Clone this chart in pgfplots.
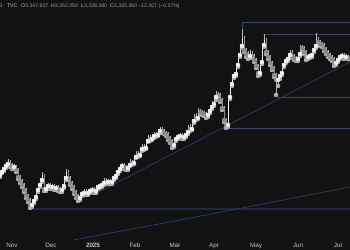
\documentclass[border=0pt]{standalone}
\usepackage{pgfplots}
\pgfplotsset{compat=1.18}
\usepackage{pgfplotstable}
\usepackage{fontspec}
\setmainfont{Liberation Sans}
\definecolor{bg}{HTML}{121212}
\definecolor{upc}{HTML}{F0F0F0}
\definecolor{dnc}{HTML}{8C8C8C}
\definecolor{wick}{HTML}{B5B5B5}
\definecolor{tl}{HTML}{2C3C70}
\definecolor{hl}{HTML}{36446E}
\definecolor{hl2}{HTML}{1E2846}
\definecolor{lab}{HTML}{C9C9C9}
\definecolor{val}{HTML}{9A9A9A}

\pgfplotstableread{
x o h l c
0 2691.5 2719 2680.5 2708
1 2708 2735.5 2702.5 2724.5
2 2724.5 2752 2713.5 2741
3 2741 2763 2730 2752
4 2752 2779.5 2746.5 2763
5 2763 2774 2735.5 2746.5
6 2746.5 2757.5 2724.5 2735.5
7 2735.5 2752 2724.5 2741
8 2741 2746.5 2708 2719
9 2719 2730 2669.5 2680.5
10 2680.5 2691.5 2647.5 2658.5
11 2658.5 2669.5 2625.5 2636.5
12 2636.5 2647.5 2598 2609
13 2609 2620 2565 2576
14 2576 2587 2543 2554
15 2554 2565 2510 2526.5
16 2526.5 2559.5 2515.5 2548.5
17 2548.5 2581.5 2537.5 2570.5
18 2570.5 2620 2559.5 2609
19 2609 2647.5 2598 2636.5
20 2636.5 2675 2625.5 2664
21 2664 2708 2653 2691.5
22 2691.5 2697 2603.5 2614.5
23 2614.5 2642 2603.5 2631
24 2631 2647.5 2620 2636.5
25 2636.5 2647.5 2614.5 2625.5
26 2625.5 2642 2614.5 2631
27 2631 2642 2609 2620
28 2620 2636.5 2609 2625.5
29 2625.5 2636.5 2603.5 2614.5
30 2614.5 2625.5 2598 2609
31 2609 2642 2598 2631
32 2631 2686 2620 2675
33 2675 2724.5 2664 2708
34 2708 2719 2664 2675
35 2675 2686 2636.5 2647.5
36 2647.5 2658.5 2614.5 2625.5
37 2625.5 2636.5 2587 2598
38 2598 2609 2565 2576
39 2576 2587 2548.5 2565
40 2565 2598 2554 2587
41 2587 2603.5 2576 2592.5
42 2592.5 2614.5 2581.5 2603.5
43 2603.5 2614.5 2581.5 2592.5
44 2592.5 2614.5 2581.5 2603.5
45 2603.5 2620 2592.5 2609
46 2609 2625.5 2598 2614.5
47 2614.5 2625.5 2592.5 2603.5
48 2603.5 2636.5 2592.5 2625.5
49 2625.5 2642 2614.5 2631
50 2631 2647.5 2620 2636.5
51 2636.5 2658.5 2625.5 2647.5
52 2647.5 2675 2636.5 2664
53 2664 2675 2642 2653
54 2653 2669.5 2642 2658.5
55 2658.5 2669.5 2642 2653
56 2653 2686 2642 2675
57 2675 2697 2664 2686
58 2686 2719 2675 2708
59 2708 2735.5 2697 2724.5
60 2724.5 2752 2713.5 2741
61 2741 2757.5 2730 2746.5
62 2746.5 2757.5 2724.5 2735.5
63 2735.5 2746.5 2719 2730
64 2730 2757.5 2719 2746.5
65 2746.5 2779.5 2741 2768.5
66 2768.5 2774 2746.5 2757.5
67 2757.5 2801.5 2752 2790.5
68 2790.5 2823.5 2785 2812.5
69 2812.5 2823.5 2790.5 2801.5
70 2801.5 2845.5 2796 2834.5
71 2834.5 2862 2823.5 2851
72 2851 2862 2829 2840
73 2840 2889.5 2834.5 2878.5
74 2878.5 2911.5 2873 2900.5
75 2900.5 2911.5 2878.5 2889.5
76 2889.5 2917 2884 2906
77 2906 2928 2895 2917
78 2917 2928 2900.5 2911.5
79 2911.5 2944.5 2906 2933.5
80 2933.5 2955.5 2922.5 2944.5
81 2944.5 2955.5 2922.5 2933.5
82 2933.5 2944.5 2917 2922.5
83 2922.5 2933.5 2906 2917
84 2917 2928 2884 2895
85 2895 2906 2867.5 2878.5
86 2878.5 2889.5 2840 2856.5
87 2856.5 2900.5 2845.5 2889.5
88 2889.5 2911.5 2878.5 2900.5
89 2900.5 2917 2889.5 2906
90 2906 2922.5 2895 2911.5
91 2911.5 2922.5 2889.5 2900.5
92 2900.5 2922.5 2889.5 2911.5
93 2911.5 2939 2900.5 2928
94 2928 2966.5 2917 2955.5
95 2955.5 2972 2933.5 2944.5
96 2944.5 2999.5 2939 2988.5
97 2988.5 3027 2977.5 3016
98 3016 3032.5 2994 3005
99 3005 3060 2999.5 3043.5
100 3043.5 3054.5 3027 3038
101 3038 3049 3021.5 3032.5
102 3032.5 3043.5 3016 3027
103 3027 3038 3005 3021.5
104 3021.5 3054.5 3010.5 3043.5
105 3043.5 3076.5 3032.5 3065.5
106 3065.5 3098.5 3054.5 3082
107 3082 3131.5 3071 3120.5
108 3120.5 3153.5 3104 3137
109 3137 3148 3120.5 3131.5
110 3131.5 3142.5 3093 3104
111 3104 3115 3049 3060
112 3060 3071 2983 2994
113 2994 3005 2950 2966.5
114 2966.5 3131.5 2955.5 3120.5
115 3120.5 3203 3109.5 3192
116 3192 3247 3181 3236
117 3236 3258 3225 3247
118 3247 3307.5 3236 3296.5
119 3296.5 3362.5 3285.5 3351.5
120 3351.5 3412 3340.5 3401
121 3401 3494.5 3390 3445
122 3445 3456 3368 3379
123 3379 3390 3340.5 3357
124 3357 3373.5 3329.5 3346
125 3346 3379 3335 3362.5
126 3362.5 3373.5 3335 3346
127 3346 3357 3313 3324
128 3324 3335 3280 3291
129 3291 3302 3236 3252.5
130 3252.5 3324 3241.5 3313
131 3313 3417.5 3302 3406.5
132 3406.5 3467 3395.5 3434
133 3434 3445 3357 3368
134 3368 3379 3329.5 3340.5
135 3340.5 3351.5 3296.5 3307.5
136 3307.5 3318.5 3269 3280
137 3280 3291 3230.5 3241.5
138 3241.5 3252.5 3131.5 3214
139 3214 3247 3181 3236
140 3236 3263.5 3219.5 3252.5
141 3252.5 3307.5 3241.5 3296.5
142 3296.5 3329.5 3285.5 3318.5
143 3318.5 3340.5 3307.5 3329.5
144 3329.5 3362.5 3318.5 3351.5
145 3351.5 3379 3340.5 3368
146 3368 3379 3335 3346
147 3346 3357 3324 3335
148 3335 3346 3318.5 3329.5
149 3329.5 3368 3318.5 3357
150 3357 3406.5 3346 3395.5
151 3395.5 3406.5 3373.5 3390
152 3390 3401 3357 3368
153 3368 3379 3324 3340.5
154 3340.5 3357 3329.5 3346
155 3346 3362.5 3335 3351.5
156 3351.5 3390 3340.5 3379
157 3379 3412 3368 3401
158 3401 3472.5 3390 3439.5
159 3439.5 3450.5 3406.5 3423
160 3423 3434 3401 3412
161 3412 3423 3395.5 3406.5
162 3406.5 3417.5 3373.5 3384.5
163 3384.5 3395.5 3357 3368
164 3368 3379 3340.5 3351.5
165 3351.5 3362.5 3329.5 3340.5
166 3340.5 3351.5 3318.5 3329.5
167 3329.5 3340.5 3291 3307.5
168 3307.5 3335 3296.5 3324
169 3324 3351.5 3313 3340.5
170 3340.5 3357 3329.5 3346
171 3346 3362.5 3335 3351.5
172 3351.5 3362.5 3329.5 3340.5
173 3340.5 3357 3335 3346
174 3347.607 3352.25 3328.38 3335.36
}\candles

\begin{document}
\begin{tikzpicture}[x=1bp,y=1bp]
\fill[bg] (0,0) rectangle (350,250);
\begin{axis}[
  at={(0,0)}, anchor=south west, scale only axis,
  width=350bp, height=250bp,
  xmin=0, xmax=175, ymin=2279, ymax=3654,
  axis line style={draw=none}, tick style={draw=none},
  ytick=\empty,
  xtick={6,25.5,46.5,67.5,87.5,107,128,149,169},
  xticklabels={Nov,Dec,\textbf{2025},Feb,Mar,Apr,May,Jun,Jul},
  xticklabel style={font=\fontsize{6.3}{7}\selectfont, text=lab, anchor=base, yshift=2.2bp},
  clip=true,
]
% drawing lines
\addplot[hl, line width=0.6bp] coordinates {(121,3494.5) (121,3533) (175,3533)};
\addplot[hl, line width=0.6bp] coordinates {(131.5,3467) (175,3467)};
\addplot[hl, line width=0.6bp] coordinates {(138.5,3120.5) (175,3120.5)};
\addplot[hl, line width=0.6bp] coordinates {(111.5,2950) (175,2950)};
\addplot[hl2, line width=1.4bp] coordinates {(15,2504.5) (175,2504.5)};
\addplot[tl, line width=0.7bp] coordinates {(48,2590) (175,3313)};
\addplot[tl, line width=0.7bp] coordinates {(36.5,2334) (87.5,2438.5) (175,2625.5)};
% wicks
\addplot[color=wick, only marks, mark=none, line cap=butt,
  error bars/.cd, y dir=plus, y explicit, error mark=none,
  error bar style={line width=0.4bp, color=wick, solid}]
  table[x=x, y=l, y error expr=\thisrow{h}-\thisrow{l}] {\candles};
% down bodies
\addplot[color=dnc, only marks, mark=none, line cap=butt,
  error bars/.cd, y dir=plus, y explicit, error mark=none,
  error bar style={line width=0.95bp, color=dnc, solid}]
  table[x=x, y expr={ifthenelse(\thisrow{c}<\thisrow{o}, \thisrow{c}, 0)}, y error expr={abs(\thisrow{c}-\thisrow{o})}] {\candles};
% up bodies
\addplot[color=upc, only marks, mark=none, line cap=butt,
  error bars/.cd, y dir=plus, y explicit, error mark=none,
  error bar style={line width=0.95bp, color=upc, solid}]
  table[x=x, y expr={ifthenelse(\thisrow{c}<\thisrow{o}, 0, \thisrow{o})}, y error expr={abs(\thisrow{c}-\thisrow{o})}] {\candles};
\end{axis}
\begin{scope}[font=\fontsize{5.2}{6}\selectfont]
\node[anchor=base west, inner sep=0, text=lab] at (-1.5,243) {D · TVC};
\node[anchor=base west, inner sep=0] at (21,243) {\textcolor{lab}{O}\textcolor{val}{3,347.607}};
\node[anchor=base west, inner sep=0] at (51,243) {\textcolor{lab}{H}\textcolor{val}{3,352.250}};
\node[anchor=base west, inner sep=0] at (81,243) {\textcolor{lab}{L}\textcolor{val}{3,328.380}};
\node[anchor=base west, inner sep=0] at (110,243) {\textcolor{lab}{C}\textcolor{val}{3,335.360}};
\node[anchor=base west, inner sep=0, text=val] at (138,243) {−12.307 (−0.37\%)};
\end{scope}
\pgfresetboundingbox
\useasboundingbox (0,0) rectangle (350,250);
\end{tikzpicture}
\end{document}
